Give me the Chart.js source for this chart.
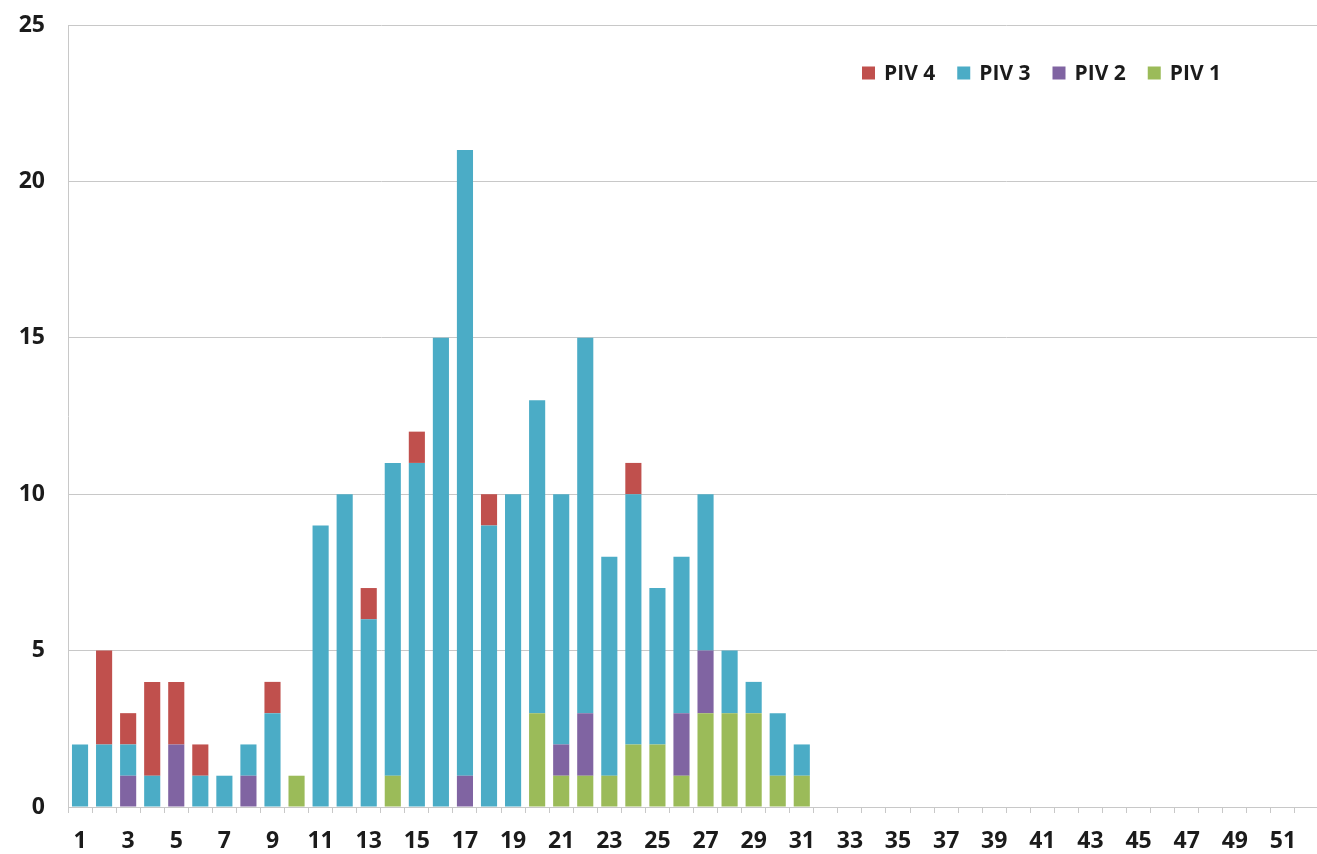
<!DOCTYPE html>
<html>
<head>
<meta charset="utf-8">
<script src="https://cdn.jsdelivr.net/npm/chart.js@4"></script>
<style>
  html, body { margin: 0; padding: 0; background: #fff; overflow: hidden; }
  #wrap { position: relative; width: 1322px; height: 854px; }
</style>
</head>
<body>
<div id="wrap"><canvas id="weeksChart"></canvas></div>
<script>
// weeks 1..52
const weeks = Array.from({ length: 52 }, (_, i) => String(i + 1));

const piv1 = [0,0,0,0,0,0,0,0,0,1, 0,0,0,1,0,0,0,0,0,3, 1,1,1,2,2,1,3,3,3,1, 1,0,0,0,0,0,0,0,0,0, 0,0,0,0,0,0,0,0,0,0, 0,0];
const piv2 = [0,0,1,0,2,0,0,1,0,0, 0,0,0,0,0,0,1,0,0,0, 1,2,0,0,0,2,2,0,0,0, 0,0,0,0,0,0,0,0,0,0, 0,0,0,0,0,0,0,0,0,0, 0,0];
const piv3 = [2,2,1,1,0,1,1,1,3,0, 9,10,6,10,11,15,20,9,10,10, 8,12,7,8,5,5,5,2,1,2, 1,0,0,0,0,0,0,0,0,0, 0,0,0,0,0,0,0,0,0,0, 0,0];
const piv4 = [0,3,1,3,2,1,0,0,1,0, 0,0,1,0,1,0,0,1,0,0, 0,0,0,1,0,0,0,0,0,0, 0,0,0,0,0,0,0,0,0,0, 0,0,0,0,0,0,0,0,0,0, 0,0];

const yTicks = [0, 5, 10, 15, 20, 25];

const FONT = "'Open Sans', 'Liberation Sans', sans-serif";
const TEXT = '#1b1b1b';
const GRID = '#c8c8c8';

// legend drawn inside the plot, top right, in reverse stack order
const innerLegend = {
  id: 'innerLegend',
  afterDraw(chart) {
    const ctx = chart.ctx;
    const items = chart.data.datasets.slice().reverse();
    let x = 862;
    const y = 73;
    ctx.save();
    ctx.font = 'bold 21px ' + FONT;
    ctx.textBaseline = 'middle';
    ctx.textAlign = 'left';
    items.forEach(ds => {
      ctx.fillStyle = ds.backgroundColor;
      ctx.fillRect(x, y - 6.5, 13, 13);
      ctx.fillStyle = TEXT;
      ctx.fillText(ds.label, x + 22, y + 1);
      x += 22 + ctx.measureText(ds.label).width + 22;
    });
    ctx.restore();
  }
};

const barOpts = {
  barPercentage: 0.67,
  categoryPercentage: 1.0,
  borderWidth: 0
};

new Chart(document.getElementById('weeksChart'), {
  type: 'bar',
  data: {
    labels: weeks,
    datasets: [
      { label: 'PIV 1', data: piv1, backgroundColor: '#9bbb59', ...barOpts },
      { label: 'PIV 2', data: piv2, backgroundColor: '#8064a2', ...barOpts },
      { label: 'PIV 3', data: piv3, backgroundColor: '#4bacc6', ...barOpts },
      { label: 'PIV 4', data: piv4, backgroundColor: '#c0504d', ...barOpts }
    ]
  },
  options: {
    responsive: true,
    maintainAspectRatio: false,
    animation: false,
    layout: { padding: { top: 25, right: 0, left: 0, bottom: 0 } },
    plugins: {
      legend: { display: false },
      tooltip: { enabled: false }
    },
    scales: {
      x: {
        stacked: true,
        afterFit: s => { s.height = 47; },
        grid: {
          drawOnChartArea: false,
          drawTicks: true,
          tickLength: 6,
          color: GRID
        },
        border: { color: GRID, width: 1 },
        ticks: {
          autoSkip: false,
          maxRotation: 0,
          padding: 15,
          color: TEXT,
          font: { family: FONT, size: 23, weight: 'bold' },
          callback: function(val, i) {
            return i % 2 === 0 ? this.getLabelForValue(val) : '';
          }
        }
      },
      y: {
        stacked: true,
        min: 0,
        max: 25,
        afterFit: s => { s.width = 68; s.paddingTop = 0; },
        afterBuildTicks: s => { s.ticks = yTicks.map(v => ({ value: v })); },
        grid: {
          color: GRID,
          drawTicks: false
        },
        border: { color: GRID, width: 1 },
        ticks: {
          padding: 23,
          color: TEXT,
          font: { family: FONT, size: 23, weight: 'bold' }
        }
      }
    }
  },
  plugins: [innerLegend]
});
</script>
</body>
</html>
